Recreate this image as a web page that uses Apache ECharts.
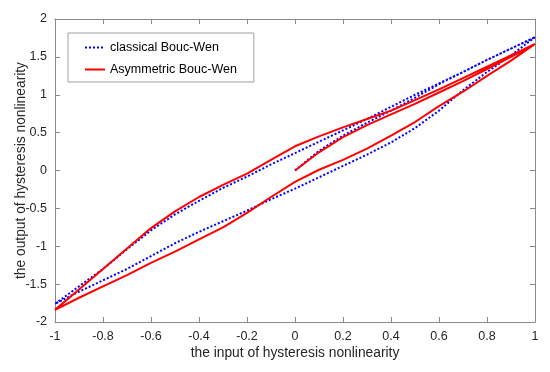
<!DOCTYPE html>
<html>
<head>
<meta charset="utf-8">
<script src="https://cdn.jsdelivr.net/npm/echarts@6/dist/echarts.min.js"></script>
<style>html,body{margin:0;padding:0;background:#fff;}#c{width:550px;height:372px;}</style>
</head>
<body>
<div id="c"></div>
<script>
// x samples
const xInit = [0, 0.1, 0.2, 0.3, 0.4, 0.5, 0.6, 0.7, 0.8, 0.9, 1];
const xDown = [1, 0.9, 0.8, 0.7, 0.6, 0.5, 0.4, 0.3, 0.2, 0.1, 0, -0.1, -0.2, -0.3, -0.4, -0.5, -0.6, -0.7, -0.8, -0.9, -1];
const xUp = [-1, -0.9, -0.8, -0.7, -0.6, -0.5, -0.4, -0.3, -0.2, -0.1, 0, 0.1, 0.2, 0.3, 0.4, 0.5, 0.6, 0.7, 0.8, 0.9, 1];

// classical Bouc-Wen
const blueInit = [0, 0.26, 0.46, 0.63, 0.79, 0.96, 1.14, 1.30, 1.46, 1.61, 1.76];
const blueUpper = [1.76, 1.61, 1.46, 1.30, 1.15, 1.00, 0.84, 0.68, 0.53, 0.38, 0.23, 0.08, -0.08, -0.23, -0.40, -0.58, -0.79, -1.04, -1.30, -1.53, -1.76];
const blueLower = [-1.76, -1.60, -1.45, -1.30, -1.13, -0.96, -0.81, -0.67, -0.53, -0.38, -0.24, -0.09, 0.06, 0.21, 0.37, 0.56, 0.79, 1.06, 1.30, 1.52, 1.76];

// Asymmetric Bouc-Wen
const redInit = [0, 0.24, 0.44, 0.60, 0.74, 0.88, 1.03, 1.18, 1.34, 1.50, 1.67];
const redUpper = [1.67, 1.52, 1.37, 1.22, 1.07, 0.93, 0.79, 0.68, 0.57, 0.45, 0.32, 0.14, -0.04, -0.19, -0.35, -0.54, -0.76, -1.03, -1.30, -1.57, -1.84];
const redLower = [-1.84, -1.68, -1.53, -1.38, -1.22, -1.07, -0.91, -0.75, -0.56, -0.35, -0.15, 0.01, 0.14, 0.29, 0.46, 0.64, 0.85, 1.04, 1.25, 1.45, 1.67];

const xTicks = [-1, -0.8, -0.6, -0.4, -0.2, 0, 0.2, 0.4, 0.6, 0.8, 1];
const yTicks = [-2, -1.5, -1, -0.5, 0, 0.5, 1, 1.5, 2];

function path(xa, ya) { return xa.map((x, i) => [x, ya[i]]); }
const blueData = [].concat(path(xInit, blueInit), path(xDown, blueUpper), path(xUp, blueLower));
const redData = [].concat(path(xInit, redInit), path(xDown, redUpper), path(xUp, redLower));

const FONT = '"Liberation Sans", Arial, Helvetica, sans-serif';
const axisCol = '#8a8a8a';
const txtCol = '#262626';

function xAx(pos, show) {
  return {
    type: 'value', position: pos, min: xTicks[0], max: xTicks[xTicks.length - 1], interval: 0.2,
    axisLine: { show: true, onZero: false, lineStyle: { color: axisCol, width: 1 } },
    axisTick: { show: true, inside: true, length: 5, lineStyle: { color: axisCol } },
    axisLabel: { show: show, color: txtCol, fontSize: 12.5, fontFamily: FONT, margin: 8,
      formatter: v => String(Math.round(v * 10) / 10) },
    splitLine: { show: false },
    name: show ? 'the input of hysteresis nonlinearity' : '',
    nameLocation: 'middle', nameGap: 24, nameMoveOverlap: false,
    nameTextStyle: { color: txtCol, fontSize: 13.8, fontFamily: FONT }
  };
}
function yAx(pos, show) {
  return {
    type: 'value', position: pos, min: yTicks[0], max: yTicks[yTicks.length - 1], interval: 0.5,
    axisLine: { show: true, onZero: false, lineStyle: { color: axisCol, width: 1 } },
    axisTick: { show: true, inside: true, length: 5, lineStyle: { color: axisCol } },
    axisLabel: { show: show, color: txtCol, fontSize: 12.5, fontFamily: FONT, margin: 8,
      formatter: v => String(Math.round(v * 10) / 10) },
    splitLine: { show: false },
    name: show ? 'the output of hysteresis nonlinearity' : '',
    nameLocation: 'middle', nameGap: 27, nameRotate: 90, nameMoveOverlap: false,
    nameTextStyle: { color: txtCol, fontSize: 13.8, fontFamily: FONT }
  };
}

const chart = echarts.init(document.getElementById('c'), null, { renderer: 'canvas' });
chart.setOption({
  animation: false,
  backgroundColor: '#ffffff',
  grid: { left: 55, right: 15, top: 19, bottom: 50, containLabel: false, outerBoundsMode: 'none' },
  xAxis: [xAx('bottom', true), xAx('top', false)],
  yAxis: [yAx('left', true), yAx('right', false)],
  legend: {
    left: 68, top: 33, orient: 'vertical',
    padding: [8, 17, 6, 16], itemGap: 9, itemWidth: 20, itemHeight: 14,
    borderColor: '#a0a0a0', borderWidth: 1, backgroundColor: '#ffffff',
    itemStyle: { opacity: 0 },
    textStyle: { color: '#000', fontSize: 12.5, fontFamily: FONT },
    selectedMode: false,
    data: ['classical Bouc-Wen', 'Asymmetric Bouc-Wen']
  },
  series: [
    { name: 'classical Bouc-Wen', type: 'line', data: blueData, showSymbol: false, symbol: 'none',
      xAxisIndex: 0, yAxisIndex: 0,
      lineStyle: { color: '#0000ff', width: 2, type: [2, 2] }, itemStyle: { color: '#0000ff' } },
    { name: 'Asymmetric Bouc-Wen', type: 'line', data: redData, showSymbol: false, symbol: 'none',
      xAxisIndex: 0, yAxisIndex: 0,
      lineStyle: { color: '#ff0000', width: 2 }, itemStyle: { color: '#ff0000' } }
  ]
});
</script>
</body>
</html>
